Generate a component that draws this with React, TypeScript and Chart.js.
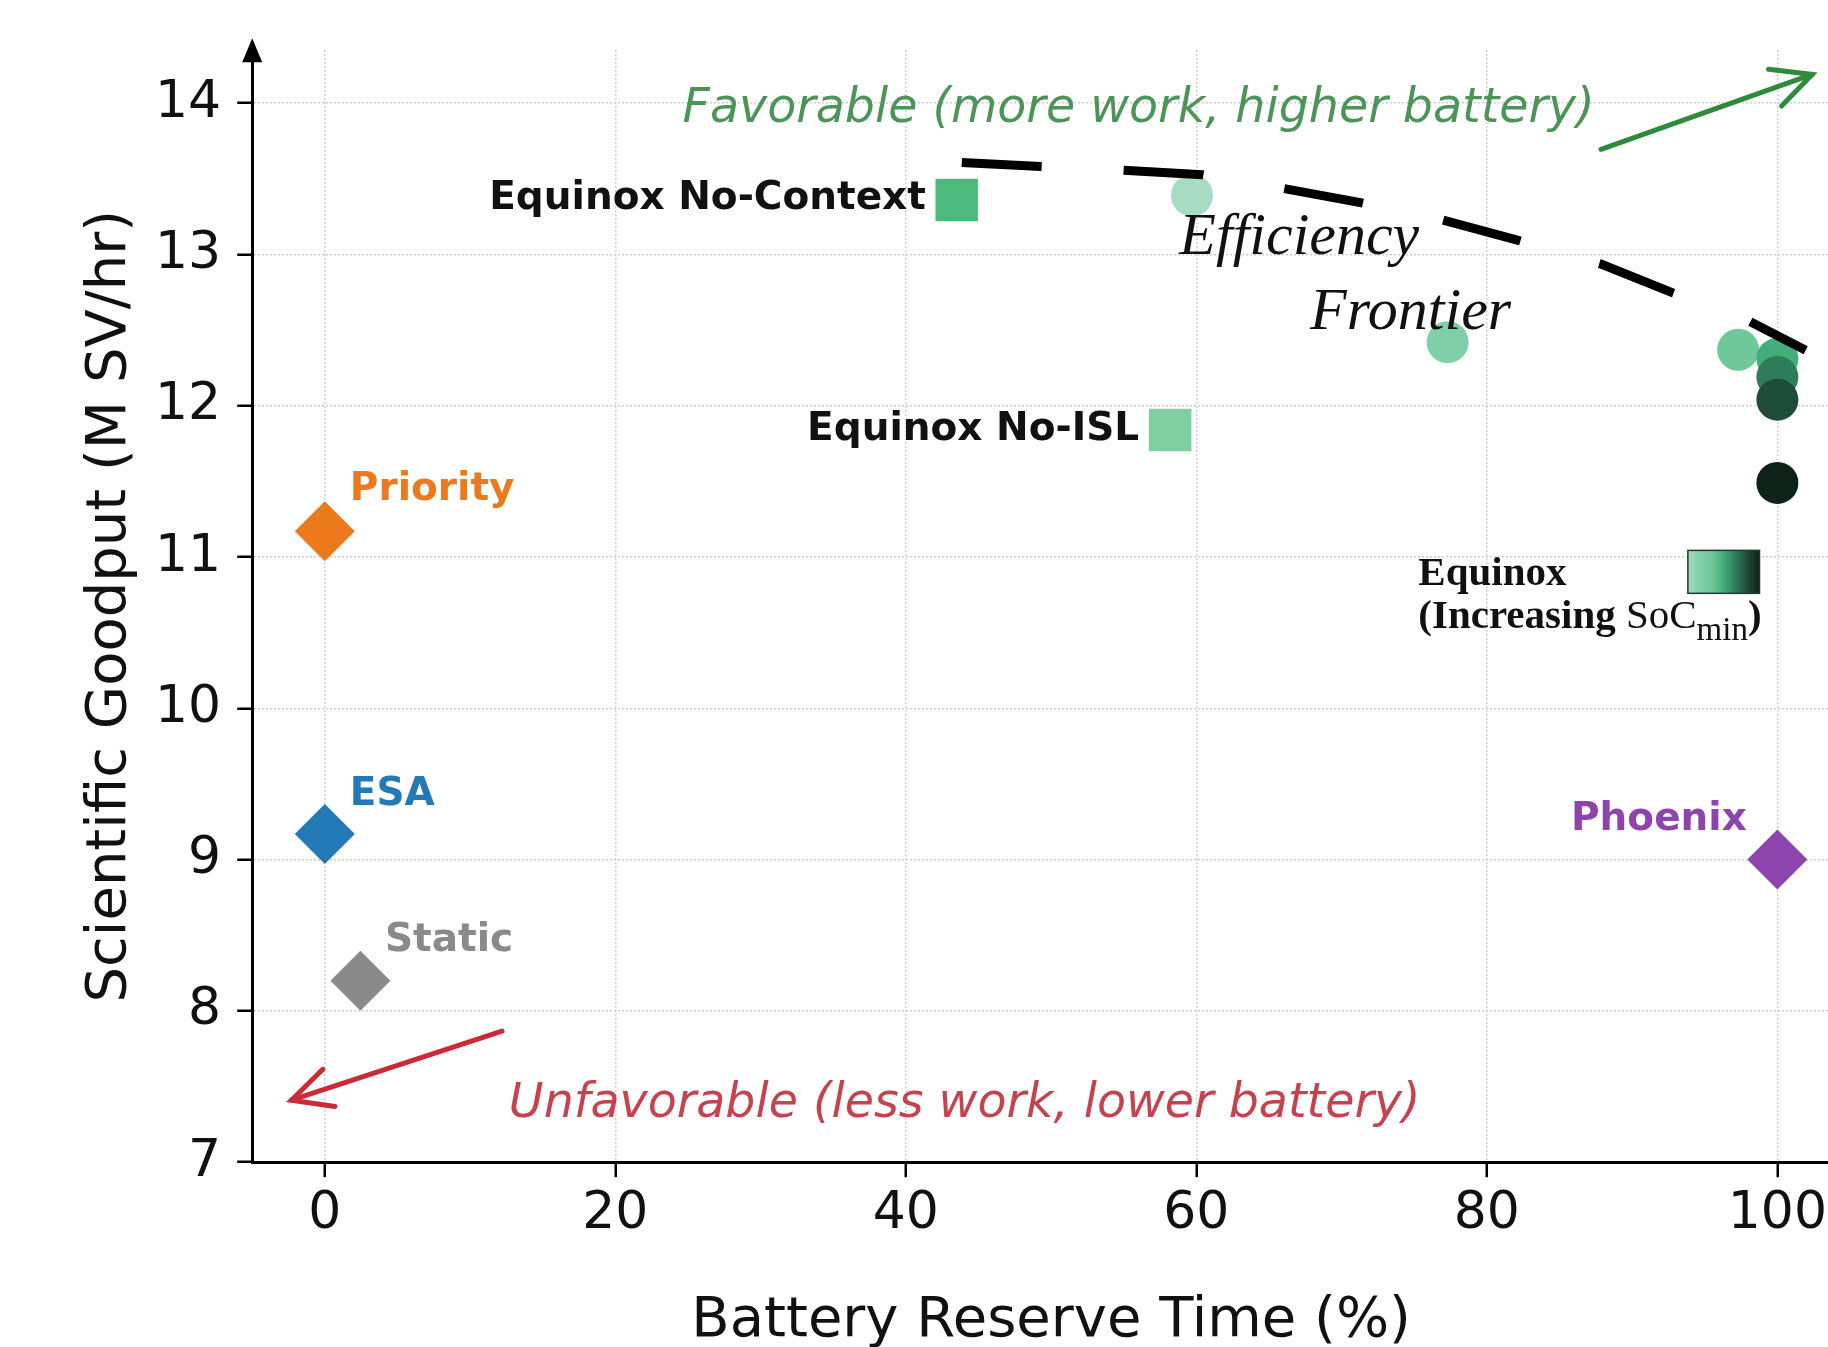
import React, { useEffect, useRef } from 'react';
import { Chart, registerables } from 'chart.js';

Chart.register(...registerables);

// ---------- data ----------
const xTicks = [0, 20, 40, 60, 80, 100];
const yTicks = [7, 8, 9, 10, 11, 12, 13, 14];

const baselineNames = ['Priority', 'ESA', 'Static', 'Phoenix'];
const baselineX = [0, 0, 2.45, 100];
const baselineY = [11.17, 9.17, 8.2, 9.0];
const baselineColors = ['#ec7a1c', '#2378b6', '#8a8a8a', '#8e44ad'];

const ablationNames = ['Equinox No-Context', 'Equinox No-ISL'];
const ablationX = [43.5, 58.2];
const ablationY = [13.36, 11.84];
const ablationColors = ['#4cba7c', '#80cfa0'];

const sweepX = [59.7, 77.3, 97.3, 100, 100, 100, 100];
const sweepY = [13.39, 12.42, 12.37, 12.31, 12.19, 12.04, 11.49];
const sweepColors = ['#a8dcc2', '#80cfa8', '#6fc79a', '#44ad7c', '#2f7c5a', '#1f4c38', '#0f2219'];

const frontierX = [43.85, 49.28, 54.98, 60.41, 65.95, 71.39, 76.98, 82.16, 87.86, 92.8, 98.09, 101.95];
const frontierY = [13.607, 13.581, 13.556, 13.527, 13.437, 13.341, 13.227, 13.093, 12.936, 12.746, 12.557, 12.367];

// ---------- annotation layout (data coordinates) ----------
const pointLabels = [
  { text: baselineNames[0], x: 1.72, y: 11.38, align: 'left', color: baselineColors[0] },
  { text: baselineNames[1], x: 1.72, y: 9.36, align: 'left', color: baselineColors[1] },
  { text: baselineNames[2], x: 4.14, y: 8.395, align: 'left', color: baselineColors[2] },
  { text: baselineNames[3], x: 97.9, y: 9.198, align: 'right', color: baselineColors[3] },
  { text: ablationNames[0], x: 41.38, y: 13.3, align: 'right', color: '#111111' },
  { text: ablationNames[1], x: 56.06, y: 11.773, align: 'right', color: '#111111' },
];

const italicNotes = [
  { text: 'Favorable (more work, higher battery)', x: 24.63, y: 13.877, color: '#4c9458' },
  { text: 'Unfavorable (less work, lower battery)', x: 12.67, y: 7.3, color: '#c4434f' },
];

const frontierWords = [
  { text: 'Efficiency', x: 58.83, y: 13.0 },
  { text: 'Frontier', x: 67.83, y: 12.507 },
];

const arrows = [
  { x1: 87.86, y1: 13.695, x2: 102.4, y2: 14.19, color: '#2f8a3c' },
  { x1: 12.2, y1: 7.866, x2: -2.3, y2: 7.41, color: '#cc2a36' },
];

const legendPos = { x: 75.28, y1: 10.815, y2: 10.53, barX0: 93.84, barX1: 98.77, barY0: 11.044, barY1: 10.76 };

const CANVAS_W = 1880;
const CANVAS_H = 1400;

function drawArrow(ctx: CanvasRenderingContext2D, x1: number, y1: number, x2: number, y2: number, color: string) {
  ctx.save();
  ctx.strokeStyle = color;
  ctx.lineWidth = 5;
  ctx.lineCap = 'round';
  ctx.lineJoin = 'miter';
  ctx.beginPath();
  ctx.moveTo(x1, y1);
  ctx.lineTo(x2, y2);
  ctx.stroke();
  const a = Math.atan2(y2 - y1, x2 - x1);
  const head = 44;
  const ang = 0.46;
  ctx.beginPath();
  ctx.moveTo(x2 - head * Math.cos(a - ang), y2 - head * Math.sin(a - ang));
  ctx.lineTo(x2, y2);
  ctx.lineTo(x2 - head * Math.cos(a + ang), y2 - head * Math.sin(a + ang));
  ctx.stroke();
  ctx.restore();
}

const annotPlugin = {
  id: 'annot',
  afterDraw(chart: any) {
    const { ctx, chartArea } = chart;
    const xs = chart.scales.x;
    const ys = chart.scales.y;
    const px = (v: number) => xs.getPixelForValue(v);
    const py = (v: number) => ys.getPixelForValue(v);
    ctx.save();

    // y-axis arrow head
    ctx.fillStyle = '#000';
    ctx.beginPath();
    ctx.moveTo(chartArea.left, chartArea.top - 12);
    ctx.lineTo(chartArea.left - 10, chartArea.top + 12);
    ctx.lineTo(chartArea.left + 10, chartArea.top + 12);
    ctx.closePath();
    ctx.fill();

    // arrows
    arrows.forEach((a) => drawArrow(ctx, px(a.x1), py(a.y1), px(a.x2), py(a.y2), a.color));

    // point labels
    ctx.textBaseline = 'alphabetic';
    ctx.font = 'bold 39px "DejaVu Sans"';
    pointLabels.forEach((l) => {
      ctx.fillStyle = l.color;
      ctx.textAlign = l.align;
      ctx.fillText(l.text, px(l.x), py(l.y));
    });

    // italic notes
    ctx.font = 'italic 47.5px "DejaVu Sans"';
    ctx.textAlign = 'left';
    italicNotes.forEach((n) => {
      ctx.fillStyle = n.color;
      ctx.fillText(n.text, px(n.x), py(n.y));
    });

    // frontier words
    ctx.font = 'italic 60px "Liberation Serif"';
    ctx.fillStyle = '#111';
    frontierWords.forEach((w) => ctx.fillText(w.text, px(w.x), py(w.y)));

    // legend for SoC sweep
    const lx = px(legendPos.x);
    ctx.fillStyle = '#111';
    ctx.font = 'bold 41px "Liberation Serif"';
    ctx.fillText('Equinox', lx, py(legendPos.y1));
    let cx = lx;
    const by = py(legendPos.y2);
    ctx.fillText('(Increasing ', cx, by);
    cx += ctx.measureText('(Increasing ').width;
    ctx.font = '41px "Liberation Serif"';
    ctx.fillText('SoC', cx, by);
    cx += ctx.measureText('SoC').width;
    ctx.font = '33px "Liberation Serif"';
    ctx.fillText('min', cx, by + 12);
    cx += ctx.measureText('min').width;
    ctx.font = 'bold 41px "Liberation Serif"';
    ctx.fillText(')', cx, by);

    const bx0 = px(legendPos.barX0);
    const bx1 = px(legendPos.barX1);
    const bt = py(legendPos.barY0);
    const bb = py(legendPos.barY1);
    const grad = ctx.createLinearGradient(bx0, 0, bx1, 0);
    sweepColors.forEach((c, i) => grad.addColorStop(i / (sweepColors.length - 1), c));
    ctx.fillStyle = grad;
    ctx.fillRect(bx0, bt, bx1 - bx0, bb - bt);
    ctx.strokeStyle = '#1f3a2c';
    ctx.lineWidth = 1.5;
    ctx.strokeRect(bx0, bt, bx1 - bx0, bb - bt);

    ctx.restore();
  },
};

export default function App() {
  const ref = useRef<HTMLCanvasElement>(null);

  useEffect(() => {
    if (!ref.current) return;
    Chart.defaults.font.family = '"DejaVu Sans"';
    const chart = new Chart(ref.current, {
      type: 'scatter',
      data: {
        datasets: [
          {
            label: 'Efficiency Frontier',
            data: frontierX.map((x, i) => ({ x, y: frontierY[i] })),
            showLine: true,
            borderColor: '#000',
            borderWidth: 9,
            borderDash: [80, 82],
            borderCapStyle: 'butt',
            pointRadius: 0,
            tension: 0,
          } as any,
          {
            label: 'Equinox',
            data: sweepX.map((x, i) => ({ x, y: sweepY[i] })),
            backgroundColor: sweepColors,
            borderWidth: 0,
            pointStyle: 'circle',
            pointRadius: 21,
          },
          ...ablationNames.map((n, i) => ({
            label: n,
            data: [{ x: ablationX[i], y: ablationY[i] }],
            backgroundColor: ablationColors[i],
            borderWidth: 0,
            pointStyle: 'rect',
            pointRadius: 30,
          })),
          ...baselineNames.map((n, i) => ({
            label: n,
            data: [{ x: baselineX[i], y: baselineY[i] }],
            backgroundColor: baselineColors[i],
            borderWidth: 0,
            pointStyle: 'rectRot',
            pointRadius: 30,
          })),
        ],
      },
      options: {
        responsive: false,
        animation: false,
        events: [],
        layout: { padding: { left: 0, top: 50.2, right: CANVAS_W - 1852.4, bottom: 0 } },
        plugins: { legend: { display: false }, tooltip: { enabled: false } },
        scales: {
          x: {
            type: 'linear',
            min: -5,
            max: 105,
            afterBuildTicks: (s: any) => {
              s.ticks = xTicks.map((v) => ({ value: v }));
            },
            afterFit: (s: any) => {
              s.height = CANVAS_H - 1162.2;
            },
            ticks: {
              callback: (v: any) => String(v),
              font: { size: 52 },
              color: '#111',
              padding: 6,
            },
            grid: {
              color: '#cdcdcd',
              lineWidth: 1.5,
              tickLength: 15,
              tickColor: '#000',
              tickWidth: 2.5,
              tickBorderDash: [],
            },
            border: { color: '#000', width: 3, dash: [2, 2] },
            title: {
              display: true,
              text: 'Battery Reserve Time (%)',
              font: { size: 56 },
              color: '#111',
              padding: { top: 0, bottom: 45 },
            },
          },
          y: {
            type: 'linear',
            min: 7,
            max: 14.35,
            afterBuildTicks: (s: any) => {
              s.ticks = yTicks.map((v) => ({ value: v }));
            },
            afterFit: (s: any) => {
              s.width = 252.2;
            },
            ticks: {
              callback: (v: any) => String(v),
              font: { size: 52 },
              color: '#111',
              padding: 16,
            },
            grid: {
              color: '#cdcdcd',
              lineWidth: 1.5,
              tickLength: 15,
              tickColor: '#000',
              tickWidth: 2.5,
              tickBorderDash: [],
            },
            border: { color: '#000', width: 3, dash: [2, 2] },
            title: {
              display: true,
              text: 'Scientific Goodput (M SV/hr)',
              font: { size: 56 },
              color: '#111',
              padding: { top: 76.5, bottom: 0 },
            },
          },
        },
      },
      plugins: [annotPlugin],
    } as any);
    return () => chart.destroy();
  }, []);

  return (
    <div
      style={{
        position: 'fixed',
        left: 0,
        top: 0,
        width: 1828,
        height: 1347,
        overflow: 'hidden',
        background: '#fff',
      }}
    >
      <canvas
        ref={ref}
        width={CANVAS_W}
        height={CANVAS_H}
        style={{ width: CANVAS_W, height: CANVAS_H, display: 'block' }}
      />
    </div>
  );
}
